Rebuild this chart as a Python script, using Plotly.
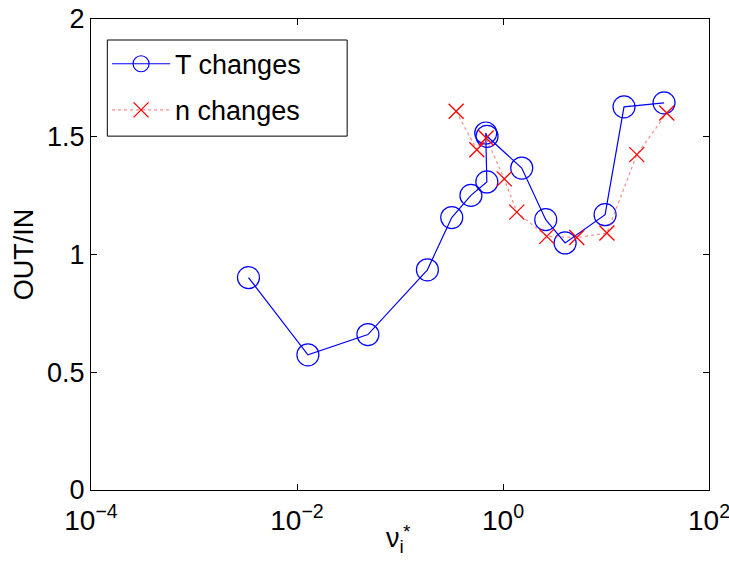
import plotly.graph_objects as go

# Normalized collisionality nu_i* and OUT/IN ratio, temperature-change scan
t_nu = [0.00338, 0.01276, 0.0488, 0.1845, 0.318, 0.488, 0.697, 0.68, 0.70,
        1.52, 2.60, 4.01, 9.8, 14.96, 36.6]
t_ratio = [0.902, 0.574, 0.660, 0.935, 1.157, 1.251, 1.308, 1.516, 1.502,
           1.367, 1.148, 1.049, 1.169, 1.627, 1.644]

# Density-change scan
n_nu = [0.351, 0.557, 0.686, 1.03, 1.36, 2.66, 5.2, 10.2, 19.9, 38.9]
n_ratio = [1.608, 1.445, 1.495, 1.321, 1.180, 1.077, 1.072, 1.091, 1.424, 1.601]

x_tickvals = [1e-4, 1e-2, 1e0, 1e2]
x_ticktext = ["10<sup>−4</sup>", "10<sup>−2</sup>", "10<sup>0</sup>", "10<sup>2</sup>"]
y_tickvals = [0, 0.5, 1, 1.5, 2]
y_ticktext = ["0", "0.5", "1", "1.5", "2"]

FONT = "Liberation Sans, Arial, Helvetica, sans-serif"

fig = go.Figure()
fig.add_trace(go.Scatter(
    x=t_nu, y=t_ratio, name="T changes", mode="lines+markers",
    line=dict(color="rgb(0,0,255)", width=1.2),
    marker=dict(symbol="circle-open", size=22, color="rgb(0,0,255)",
                line=dict(width=1.2, color="rgb(0,0,255)")),
    legendgroup="t",
))
fig.add_trace(go.Scatter(
    x=n_nu, y=n_ratio, name="n changes", mode="lines+markers",
    line=dict(color="rgba(255,60,60,0.6)", width=1.2, dash="dot"),
    marker=dict(symbol="x-thin", size=15, color="rgb(255,0,0)",
                line=dict(width=1.3, color="rgb(255,0,0)")),
    legendgroup="n",
))

# x-axis symbol: nu with subscript i and a stacked superscript star
fig.add_annotation(
    text="ν<sub>i</sub>", xref="paper", yref="paper", x=0.474, y=-0.065,
    xanchor="left", yanchor="top", showarrow=False,
    font=dict(family=FONT, size=27, color="black"),
)
fig.add_annotation(
    text="*", xref="paper", yref="paper", x=0.511, y=-0.062,
    xanchor="center", yanchor="top", showarrow=False,
    font=dict(family=FONT, size=19, color="black"),
)

# framed white panel behind the legend entries
fig.add_shape(
    type="rect", xref="paper", yref="paper",
    x0=0.0264, x1=0.4145, y0=0.7513, y1=0.9554,
    line=dict(color="black", width=1), fillcolor="white", layer="above",
)

fig.update_layout(
    width=729, height=565,
    margin=dict(l=91, r=20, t=19, b=75, autoexpand=False),
    paper_bgcolor="white", plot_bgcolor="white",
    font=dict(family=FONT, size=28, color="black"),
    showlegend=True,
    legend=dict(
        x=0.026, y=0.956, xanchor="left", yanchor="top",
        bgcolor="rgba(0,0,0,0)", borderwidth=0,
        font=dict(family=FONT, size=27, color="black"),
        tracegroupgap=8, itemwidth=58,
    ),
    xaxis=dict(
        type="log", range=[-4, 2],
        tickvals=x_tickvals, ticktext=x_ticktext,
        ticks="inside", ticklen=6, tickwidth=1, tickcolor="black",
        ticklabelstandoff=5, ticklabeloverflow="allow",
        tickfont=dict(family=FONT, size=28),
        showline=True, linecolor="black", linewidth=1.2, mirror="ticks",
        showgrid=False, zeroline=False, automargin=False,
    ),
    yaxis=dict(
        range=[0, 2],
        tickvals=y_tickvals, ticktext=y_ticktext,
        ticks="inside", ticklen=6, tickwidth=1, tickcolor="black",
        tickfont=dict(family=FONT, size=27),
        showline=True, linecolor="black", linewidth=1.2, mirror="ticks",
        showgrid=False, zeroline=False, automargin=False,
        title=dict(text="OUT/IN", standoff=5,
                   font=dict(family=FONT, size=27)),
    ),
)

fig.write_html("out.html")
